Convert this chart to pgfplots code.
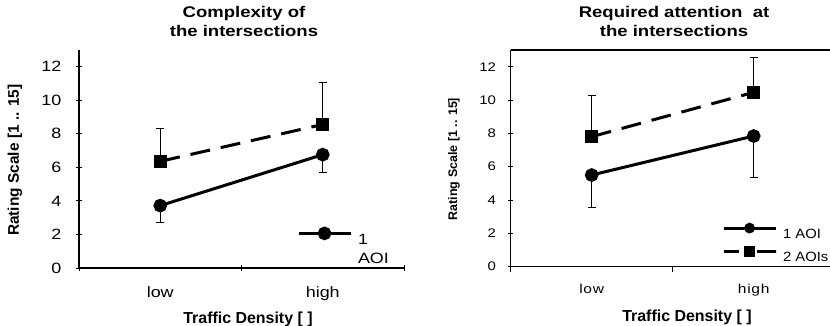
\documentclass[border=0pt]{standalone}
\usepackage{fontspec}
\setmainfont{Liberation Sans}
\newfontfamily\wf[FakeStretch=1.2]{Liberation Sans}
\newfontfamily\wm[FakeStretch=1.1]{Liberation Sans}
\newfontfamily\wft[FakeStretch=1.2, LetterSpace=6]{Liberation Sans}
\usepackage{pgfplots}
\pgfplotsset{compat=1.18}
\begin{document}
\begin{tikzpicture}
\useasboundingbox (0,0) rectangle (830bp,326bp);
\pgfplotsset{
  common/.style={
    scale only axis, anchor=south west,
    xmin=0, ymin=0, ymax=13,
    xtick={0,1,2}, xticklabels={},
    extra x ticks={0.5,1.5}, extra x tick labels={low,high},
    extra x tick style={major tick length=0pt},
    ytick={0,2,...,12},
    tick align=outside, major tick length=5bp,
    tick style={black, line width=1bp},
    /pgf/number format/assume math mode=true,
    clip=false,
    legend cell align=left,
    legend style={draw=none, fill=none, inner sep=0pt, outer sep=0pt, column sep=6bp,
      nodes={inner sep=0pt, text height=13bp, text depth=0bp}},
  },
  nolinearrows/.style={
    axis line style={-, line width=1.5bp},
    x axis line style={-}, y axis line style={-},
    every outer x axis line/.append style={-},
    every outer y axis line/.append style={-},
    every inner x axis line/.append style={-},
    every inner y axis line/.append style={-},
  },
  one/.style={black, line width=3bp, mark=*, mark size=5.3bp, mark options={solid},
     error bars/y dir=minus, error bars/y explicit,
     error bars/error bar style={line width=0.8bp, solid},
     error bars/error mark options={rotate=90, mark size=4bp, line width=0.8bp, solid}},
  two/.style={black, line width=3bp, dash pattern=on 20bp off 11bp, mark=square*, mark size=5bp, mark options={solid},
     error bars/y dir=plus, error bars/y explicit,
     error bars/error bar style={line width=0.8bp, solid},
     error bars/error mark options={rotate=90, mark size=4bp, line width=0.8bp, solid}},
  twoleg/.style={legend image code/.code={%
     \draw[##1, mark size=3.8bp, dash pattern=on 15bp off 18bp on 19bp off 0bp] (0bp,3.5bp) -- (52bp,3.5bp);
     \draw[##1, mark size=3.8bp] plot coordinates {(26bp,3.5bp)};}},
}
% ---------------- left chart ----------------
\begin{axis}[common, at={(79bp,58bp)}, width=325bp, height=218bp, xmax=2,
  axis x line=bottom, axis y line=left, nolinearrows,
  yticklabel style={font=\wf\fontsize{15}{18}\selectfont, anchor=east, inner sep=0pt, xshift=-15bp},
  xticklabel style={font=\wf\fontsize{15}{18}\selectfont, anchor=base, yshift=-29.7bp},
  xlabel={Traffic Density [ ]},
  xlabel style={font=\bfseries\fontsize{16}{19}\selectfont, at={(axis description cs:0.52,0)}, anchor=base, yshift=-55.3bp},
  ylabel={Rating Scale [1 .. 15]},
  ylabel style={font=\bfseries\fontsize{15.5}{18}\selectfont, at={(axis description cs:-0.197,0.495)}, anchor=center, rotate=0},
  legend style={at={(axis description cs:0.6708,0.183)}, anchor=north west, font=\wf\fontsize{15}{18}\selectfont, row sep=5.7bp},
  legend image code/.code={\draw[mark repeat=2,mark phase=2,#1] plot coordinates {(0bp,4.5bp) (26bp,4.5bp) (52bp,4.5bp)};},
]
\addplot[one] coordinates {(0.5,3.72) +- (0,1.02) (1.5,6.76) +- (0,1.04)};
\addlegendentry{1}
\addlegendimage{empty legend}
\addlegendentry{AOI}
\addplot[two] coordinates {(0.5,6.36) +- (0,1.96) (1.5,8.56) +- (0,2.50)};
\end{axis}
% ---------------- right chart ----------------
\begin{axis}[common, at={(510.7bp,59.3bp)}, width=319.3bp, height=216.7bp, xmax=1.971,
  axis x line=box, axis y line=left, nolinearrows, xtick pos=left, ytick pos=left,
  yticklabel style={font=\wf\fontsize{12.5}{15}\selectfont, anchor=east, inner sep=0pt, xshift=-12bp},
  xticklabel style={font=\wft\fontsize{13}{16}\selectfont, anchor=base, yshift=-26.6bp},
  xlabel={Traffic Density [ ]},
  xlabel style={font=\bfseries\fontsize{16}{19}\selectfont, at={(axis description cs:0.552,0)}, anchor=base, yshift=-55bp},
  ylabel={Rating Scale [1 .. 15]},
  ylabel style={font=\bfseries\fontsize{12.5}{15}\selectfont, at={(axis description cs:-0.1776,0.497)}, anchor=center, rotate=0},
  legend style={at={(axis description cs:0.662,0.1957)}, anchor=north west, font=\wm\fontsize{13.5}{16}\selectfont, row sep=9.7bp},
  legend image code/.code={\draw[mark repeat=2,mark phase=2,#1, mark size=3.8bp] plot coordinates {(0bp,3.5bp) (26bp,3.5bp) (52bp,3.5bp)};},
]
\addplot[one] coordinates {(0.5,5.5) +- (0,1.96) (1.5,7.84) +- (0,2.5)};
\addlegendentry{1 AOI}
\addplot[two, twoleg] coordinates {(0.5,7.8) +- (0,2.46) (1.5,10.46) +- (0,2.1)};
\addlegendentry{2 AOIs}
\end{axis}
% ---------------- titles ----------------
\node[font=\wf\bfseries\fontsize{15.5}{18}\selectfont, anchor=base] at (244bp,308bp) {Complexity of};
\node[font=\wf\bfseries\fontsize{15.5}{18}\selectfont, anchor=base] at (244bp,289bp) {the intersections};
\node[font=\wf\bfseries\fontsize{15.5}{18}\selectfont, anchor=base] at (674bp,308bp) {Required attention\ \ at};
\node[font=\wf\bfseries\fontsize{15.5}{18}\selectfont, anchor=base] at (674bp,289bp) {the intersections};
\end{tikzpicture}
\end{document}
